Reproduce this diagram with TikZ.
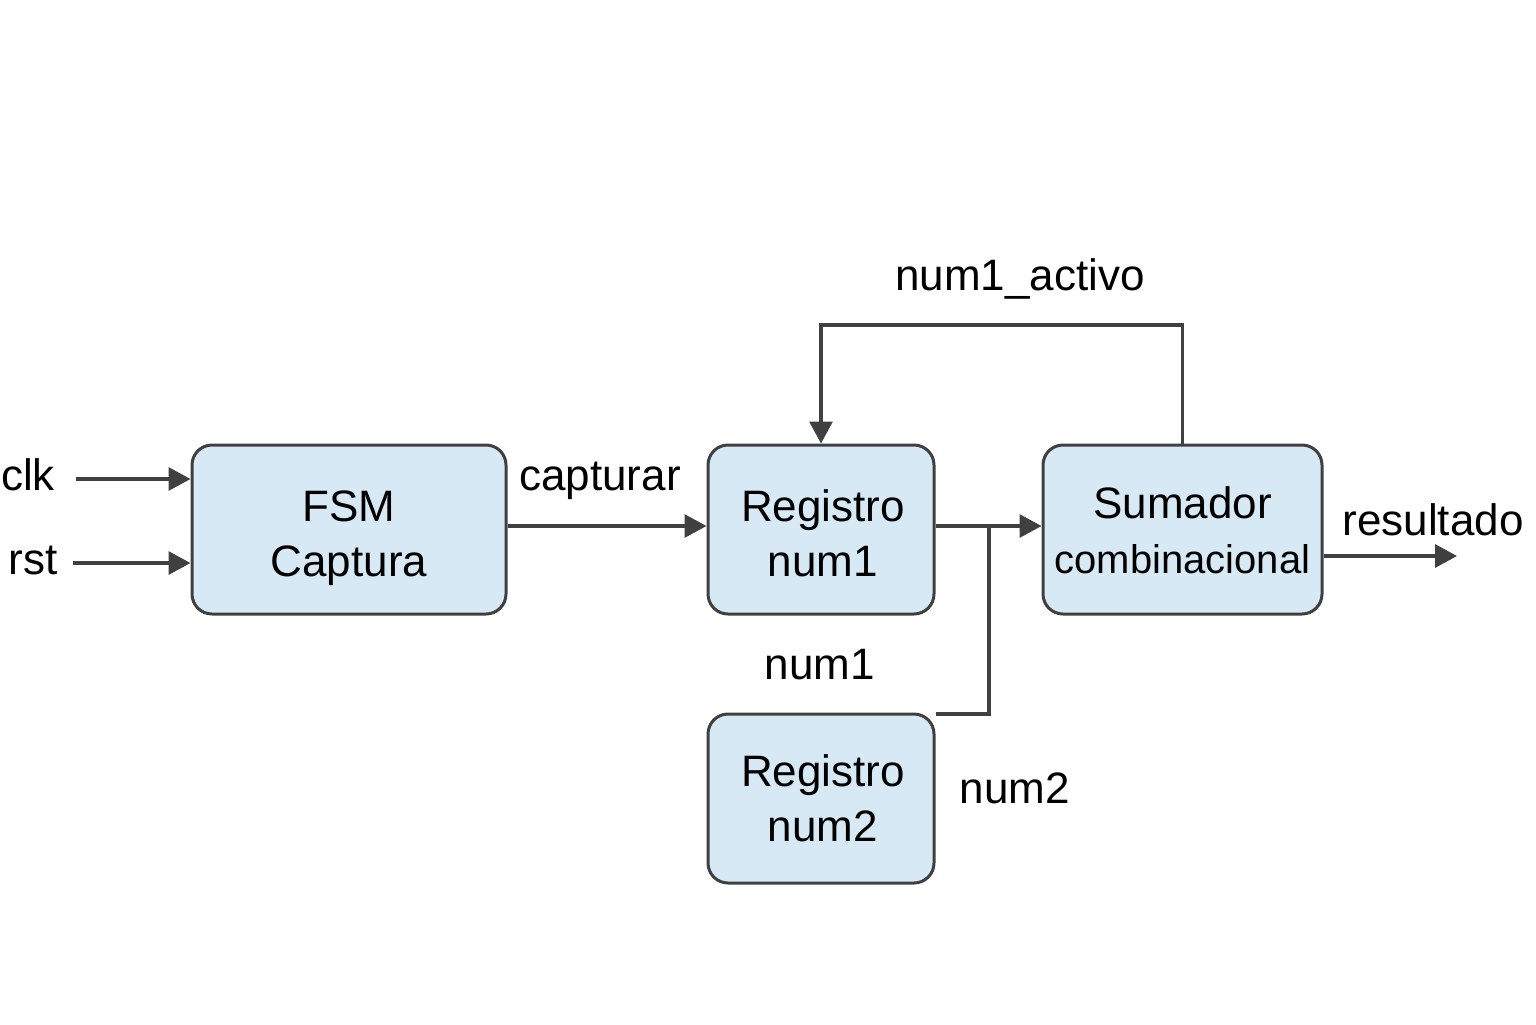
\documentclass[tikz,border=0pt]{standalone}
\usepackage{fontspec}
\setmainfont{Liberation Sans}
\usetikzlibrary{arrows.meta,calc}
\definecolor{boxfill}{HTML}{D6E9F5}
\definecolor{edge}{HTML}{404040}
\tikzset{
  blk/.style={draw=edge,fill=boxfill,line width=1.5pt,rounded corners=10pt,
    minimum height=84.5pt,inner sep=0pt},
  btxt/.style={inner sep=0pt,align=center,font=\fontsize{22}{27.5}\selectfont},
  lbl/.style={inner sep=0pt,font=\fontsize{22}{26}\selectfont},
  wire/.style={draw=edge,line width=1.6pt},
  arr/.style={wire,-{Triangle[length=11pt,width=11.5pt]}}
}
\begin{document}
\begin{tikzpicture}[x=0.5pt,y=-0.5pt]
\useasboundingbox (0,0) rectangle (1536,1024);
\node[blk,minimum width=157pt] (fsm) at (349,529.5) {};
\node[blk,minimum width=113pt] (r1) at (821,529.5) {};
\node[blk,minimum width=139.5pt] (sum) at (1182.5,529.5) {};
\node[blk,minimum width=113pt] (r2) at (821,798.5) {};

\node[btxt] (tfsm) at ($(fsm)+(0,9)$) {FSM\\Captura};
\node[btxt] (tr1) at ($(r1)+(2,4)$) {Registro\\num1};
\node[btxt] (tsum) at ($(sum)+(0,1)$) {Sumador\\{\fontsize{20}{27.5}\selectfont combinacional}};
\node[btxt] (tr2) at ($(r2)+(2,0)$) {Registro\\num2};

\node[lbl] (lclk) at (28,475) {clk};
\node[lbl] (lrst) at (33,560) {rst};
\node[lbl] (lcap) at (600,481) {capturar};
\node[lbl] (lact) at (1020,279) {num1\_activo};
\node[lbl] (lres) at (1433,520) {resultado};
\node[lbl] (ln1) at (820,665) {num1};
\node[lbl] (ln2) at (1015,788) {num2};

\coordinate (clks) at (76,479);
\coordinate (rsts) at (73,563);
\coordinate (capy) at (0,526);
\coordinate (junc) at (989,526);
\coordinate (jdown) at (989,714);
\coordinate (fbtop) at (0,325);
\coordinate (resy) at (0,556);
\coordinate (resend) at (1457,556);

\draw[arr] (clks) -- (clks -| fsm.west);
\draw[arr] (rsts) -- (rsts -| fsm.west);
\draw[arr] (capy -| fsm.east) -- (capy -| r1.west);
\draw[arr] (capy -| r1.east) -- (capy -| sum.west);
\draw[wire] (junc) -- (jdown) -- (jdown -| r2.east);
\draw[arr] (sum.north) -- (fbtop -| sum.north) -- (fbtop -| r1.north) -- (r1.north);
\draw[arr] (resy -| sum.east) -- (resend);
\end{tikzpicture}
\end{document}
